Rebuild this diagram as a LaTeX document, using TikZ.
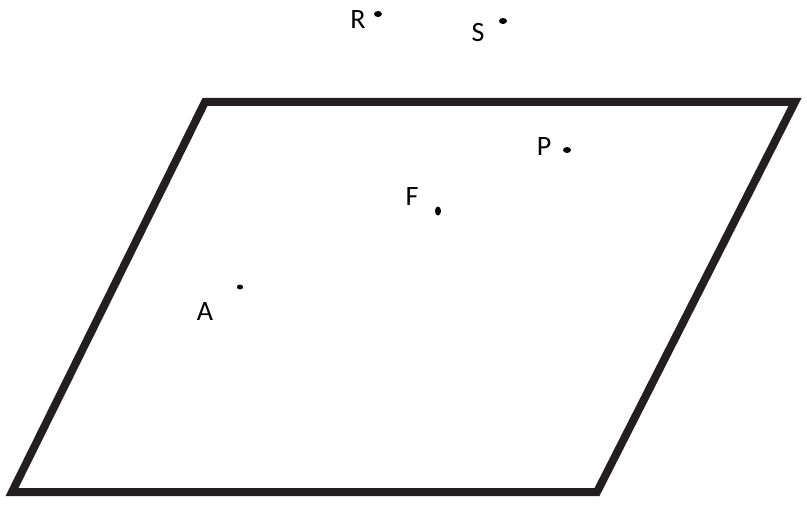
\documentclass[tikz,border=0pt]{standalone}
\usepackage{fontspec}
\setmainfont{Carlito}
\definecolor{planeink}{HTML}{231F20}
\begin{document}
\begin{tikzpicture}[x=1pt, y=-1pt, every node/.style={font=\fontsize{28}{32}\selectfont, inner sep=0pt}]
        \useasboundingbox (0,0) rectangle (807,511);
        % Define the corners of the plane
        \coordinate (tl) at (205,102);
        \coordinate (tr) at (795,102);
        \coordinate (br) at (597,492);
        \coordinate (bl) at (12,492);
    
        % Draw the plane
        \draw[line width=8pt, planeink, line join=miter] (tl) -- (tr) -- (br) -- (bl) -- cycle;
    
        % Define the points
        \fill (378,14) ellipse (4pt and 3pt);
        \fill (503,21) ellipse (4pt and 3pt);
        \fill (567,150) ellipse (4pt and 3pt);
        \fill (438,211) ellipse (3pt and 4.5pt);
        \fill (240,287) ellipse (3pt and 2.5pt);
    
        % Add labels
        \node (r) at (358,20) {R};
        \node (s) at (478,33) {S};
        \node (p) at (544,147) {P};
        \node (f) at (412,197) {F};
        \node (a) at (205,312) {A};
    \end{tikzpicture}
\end{document}
